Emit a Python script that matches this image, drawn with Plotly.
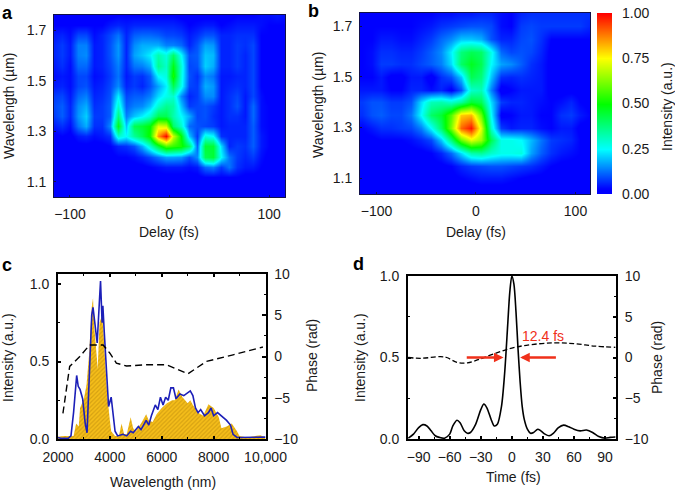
import plotly.graph_objects as go

W, H = 675, 491
FONT = "Liberation Sans"
BLACK = "#1a1a1a"

# Panel a
a_delay = [-116,-108,-100,-92,-84,-76,-68,-60,-52,-44,-36,-28,-20,-12,-4,4,12,20,28,36,44,52,60,68,76,84,92,100,108,116]
a_wave = [1.76,1.72,1.68,1.64,1.60,1.56,1.52,1.48,1.44,1.40,1.36,1.32,1.28,1.24,1.20,1.16,1.12,1.08,1.04]
a_z = [
[.02,.02,.02,.02,.02,.02,.02,.02,.03,.03,.03,.03,.03,.03,.03,.03,.02,.02,.02,.02,.02,.02,.02,.03,.03,.03,.04,.04,.05,.04],
[.03,.03,.03,.03,.03,.03,.03,.05,.06,.05,.06,.06,.06,.06,.06,.06,.05,.03,.04,.05,.05,.03,.04,.05,.05,.05,.04,.03,.03,.03],
[.05,.06,.04,.09,.09,.04,.06,.09,.13,.06,.11,.12,.12,.11,.09,.09,.08,.05,.07,.10,.10,.06,.06,.07,.07,.07,.03,.03,.02,.02],
[.06,.08,.05,.14,.14,.05,.06,.10,.16,.06,.15,.18,.18,.18,.14,.14,.12,.06,.10,.17,.16,.06,.06,.08,.07,.09,.03,.02,.02,.02],
[.06,.08,.05,.14,.15,.05,.06,.10,.16,.06,.17,.20,.24,.33,.28,.40,.25,.10,.11,.20,.19,.06,.06,.08,.06,.09,.03,.02,.02,.02],
[.05,.07,.04,.12,.12,.05,.06,.09,.14,.06,.13,.14,.18,.36,.30,.48,.29,.09,.10,.21,.18,.06,.06,.08,.06,.09,.03,.02,.02,.02],
[.04,.05,.04,.09,.09,.04,.05,.08,.13,.05,.08,.07,.11,.25,.28,.52,.28,.10,.07,.15,.13,.05,.05,.06,.06,.09,.03,.02,.02,.02],
[.05,.06,.04,.09,.10,.05,.06,.09,.15,.06,.08,.06,.10,.17,.24,.42,.27,.09,.08,.18,.16,.05,.06,.07,.06,.09,.03,.02,.02,.03],
[.08,.09,.05,.12,.14,.06,.07,.10,.24,.09,.11,.11,.14,.22,.27,.30,.15,.06,.08,.15,.15,.05,.07,.09,.05,.09,.04,.02,.02,.03],
[.09,.11,.06,.15,.18,.07,.08,.11,.30,.11,.14,.15,.20,.30,.36,.34,.20,.08,.09,.10,.08,.05,.07,.10,.05,.12,.04,.03,.03,.03],
[.08,.11,.06,.16,.21,.08,.08,.11,.38,.14,.20,.24,.30,.42,.42,.33,.25,.18,.09,.10,.07,.05,.07,.07,.05,.12,.04,.03,.03,.03],
[.05,.07,.04,.13,.18,.07,.07,.15,.48,.20,.42,.45,.50,.72,.70,.40,.30,.12,.10,.09,.08,.05,.06,.06,.06,.11,.04,.03,.03,.03],
[.02,.03,.02,.05,.06,.04,.05,.07,.30,.25,.35,.42,.52,.85,1.0,.70,.50,.20,.08,.28,.25,.07,.06,.06,.06,.11,.05,.03,.03,.03],
[.01,.01,.01,.02,.02,.02,.02,.03,.06,.07,.10,.18,.30,.45,.58,.55,.52,.40,.12,.45,.45,.22,.06,.08,.07,.11,.05,.03,.02,.02],
[.01,.01,.01,.01,.01,.02,.02,.02,.03,.03,.04,.06,.09,.13,.17,.17,.16,.10,.15,.42,.45,.25,.13,.08,.06,.08,.04,.02,.02,.02],
[.01,.01,.01,.01,.01,.01,.01,.02,.02,.02,.02,.02,.03,.04,.05,.05,.05,.04,.05,.12,.14,.08,.13,.07,.05,.05,.03,.02,.02,.02],
[.01,.01,.01,.01,.01,.01,.01,.01,.01,.01,.01,.01,.02,.02,.02,.02,.02,.02,.02,.03,.03,.03,.03,.03,.02,.02,.02,.02,.02,.02],
[.01,.01,.01,.01,.01,.01,.01,.01,.01,.01,.01,.01,.01,.01,.01,.01,.01,.01,.01,.01,.01,.01,.01,.01,.01,.01,.01,.01,.01,.01],
[.01,.01,.01,.01,.01,.01,.01,.01,.01,.01,.01,.01,.01,.01,.01,.01,.01,.01,.01,.01,.01,.01,.01,.01,.01,.01,.01,.01,.01,.01],
]

# Panel b
b_delay = [-115,-105,-95,-85,-75,-65,-55,-45,-35,-25,-15,-5,5,15,25,35,45,55,65,75,85,95,105,115]
b_wave = [1.75,1.70,1.65,1.60,1.55,1.50,1.45,1.40,1.35,1.30,1.25,1.20,1.15,1.10,1.05]
b_z = [
[.03,.03,.03,.03,.03,.03,.03,.03,.04,.04,.05,.05,.06,.06,.04,.03,.06,.07,.07,.07,.07,.07,.07,.07],
[.03,.03,.03,.03,.03,.03,.04,.05,.07,.08,.09,.10,.10,.09,.04,.03,.08,.09,.08,.08,.08,.08,.08,.06],
[.03,.03,.05,.05,.04,.04,.06,.08,.12,.15,.20,.20,.18,.10,.06,.06,.09,.10,.07,.03,.03,.03,.03,.03],
[.03,.04,.07,.07,.06,.06,.08,.11,.15,.24,.38,.42,.40,.27,.12,.09,.10,.09,.06,.02,.02,.02,.02,.02],
[.03,.04,.08,.08,.07,.07,.09,.11,.14,.22,.40,.47,.42,.25,.17,.15,.11,.07,.05,.02,.02,.02,.02,.02],
[.03,.03,.05,.02,.02,.05,.05,.01,.07,.10,.20,.42,.38,.20,.07,.06,.07,.06,.05,.02,.02,.02,.02,.02],
[.05,.05,.05,.03,.03,.06,.06,.04,.06,.02,.10,.30,.32,.14,.01,.03,.05,.05,.05,.02,.02,.02,.02,.02],
[.08,.10,.10,.08,.08,.10,.22,.32,.33,.30,.35,.45,.42,.22,.08,.06,.06,.05,.04,.03,.04,.06,.03,.02],
[.07,.10,.11,.09,.09,.13,.25,.40,.45,.58,.80,.82,.60,.25,.02,.03,.05,.05,.03,.03,.07,.08,.05,.03],
[.03,.05,.07,.07,.08,.09,.14,.25,.40,.62,.90,.98,.72,.30,.08,.05,.06,.06,.04,.03,.05,.05,.02,.02],
[.02,.02,.03,.03,.03,.04,.06,.09,.20,.38,.60,.72,.65,.42,.27,.27,.25,.19,.13,.08,.07,.06,.03,.03],
[.01,.01,.01,.01,.01,.02,.02,.03,.06,.12,.22,.33,.35,.30,.27,.27,.28,.17,.11,.07,.05,.04,.03,.03],
[.01,.01,.01,.01,.01,.01,.01,.02,.02,.03,.06,.08,.09,.10,.10,.09,.08,.07,.05,.03,.02,.02,.02,.02],
[.01,.01,.01,.01,.01,.01,.01,.01,.01,.02,.03,.04,.05,.05,.05,.04,.03,.02,.02,.01,.01,.01,.01,.01],
[.01,.01,.01,.01,.01,.01,.01,.01,.01,.01,.01,.01,.01,.01,.01,.01,.01,.01,.01,.01,.01,.01,.01,.01],
]

# Colour bar
cbar_levels = [0, .25, .5, .75, 1]
cbar_labels = ["0.00", "0.25", "0.50", "0.75", "1.00"]

# Panel c
c_fill_x = [2000,2200,2500,2600,2700,2800,2850,3000,3100,3200,3300,3350,3400,3500,3530,3600,3700,3750,3800,3900,4000,4050,4200,4350,4450,4550,4650,4800,4900,5000,5200,5400,5500,5650,5800,6000,6200,6400,6500,6650,6800,7000,7100,7200,7400,7600,7800,8000,8200,8300,8500,8700,8900,9000,9300,9600,9800,10000]
c_fill_y = [.015,.02,.02,.02,.10,.08,.2,.26,.35,.55,.85,.91,.72,.52,.45,.75,.80,.70,.55,.28,.12,.05,.02,.02,.10,.03,.03,.14,.07,.05,.10,.16,.12,.11,.16,.2,.23,.25,.25,.32,.27,.23,.25,.22,.17,.15,.225,.20,.14,.07,.08,.10,.05,.02,.01,.02,.025,.01]
c_blue_x = [2000,2100,2400,2500,2600,2680,2720,2780,2850,2950,3050,3120,3200,3300,3350,3430,3510,3600,3640,3700,3730,3780,3850,3950,4050,4100,4200,4300,4500,4650,4800,4900,5100,5200,5400,5500,5600,5750,5850,5950,6050,6150,6250,6350,6450,6550,6700,6850,7000,7100,7200,7300,7400,7500,7650,7800,7900,8000,8150,8300,8500,8650,8750,8900,10000]
c_blue_y = [.01,.005,.005,.02,.17,.38,.41,.34,.32,.26,.10,.04,.35,.80,.85,.75,.62,.90,1.02,.75,.86,.70,.50,.21,.27,.20,.05,.02,.03,.02,.05,.04,.08,.06,.12,.09,.15,.22,.19,.27,.22,.27,.25,.33,.33,.26,.29,.28,.30,.31,.28,.20,.17,.19,.15,.17,.20,.15,.17,.15,.12,.09,.03,.01,.012]
c_phase_x = [2190,2320,2450,2840,3220,3740,4000,4250,4640,5400,6180,7010,7720,8750,9900]
c_phase_y = [-6.9,-4,-1.2,0,1.4,1.4,.4,-.8,-1.15,-1,-1,-2.1,-.6,.2,1.15]
c_xticks = [2000,4000,6000,8000,10000]
c_xlabels = ["2000","4000","6000","8000","10,000"]

# Panel d
d_t = [-100,-95,-90,-86,-82,-78,-74,-70,-65,-60,-57,-53,-50,-46,-43,-40,-35,-30,-27,-24,-20,-17,-14,-10,-7,-4,-2,0,2,4,6,8,10,12,15,18,21,25,28,32,36,40,45,50,55,60,66,72,78,84,90,95,100]
d_i = [.005,.03,.07,.088,.08,.05,.02,.01,.005,.03,.08,.115,.10,.05,.035,.04,.09,.18,.215,.19,.12,.08,.09,.2,.4,.7,.9,1.0,.95,.78,.55,.35,.2,.12,.06,.035,.04,.06,.05,.03,.02,.035,.07,.085,.075,.06,.05,.055,.04,.015,.005,.01,.012]
d_phase_t = [-100,-88,-69,-63,-53,-43,-30,-14,0,14,40,60,80,100]
d_phase = [0,-.1,.1,0,-.6,-.65,-.15,.6,1.15,1.5,1.8,1.7,1.4,1.25]

JET = [[0,"rgb(0,0,255)"],[.03,"rgb(0,0,255)"],[.25,"rgb(0,255,255)"],[.5,"rgb(0,255,0)"],[.75,"rgb(255,255,0)"],[1,"rgb(255,0,0)"]]

def dx(a, b): return [a / W, b / W]
def dy(top, bot): return [1 - bot / H, 1 - top / H]

fig = go.Figure()
fig.add_trace(go.Heatmap(x=a_delay, y=a_wave, z=a_z, zmin=0, zmax=1, colorscale=JET, zsmooth="best",
                         showscale=False, xaxis="x", yaxis="y"))
fig.add_trace(go.Heatmap(x=b_delay, y=b_wave, z=b_z, zmin=0, zmax=1, colorscale=JET, zsmooth="best",
                         showscale=False, xaxis="x2", yaxis="y2"))
fig.add_trace(go.Heatmap(x=[0, 1], y=cbar_levels, z=[[v, v] for v in cbar_levels], zmin=0, zmax=1, colorscale=JET,
                         zsmooth="best", showscale=False, xaxis="x5", yaxis="y7"))
fig.add_trace(go.Scatter(x=c_fill_x, y=c_fill_y, mode="none", fill="tozeroy", xaxis="x3", yaxis="y3",
                         fillcolor="#F2B705",
                         fillpattern=dict(shape="/", bgcolor="#F5BE1A", fgcolor="#B8860B", size=3, solidity=.4)))
fig.add_trace(go.Scatter(x=c_blue_x, y=c_blue_y, mode="lines", line=dict(color="#1C1FB8", width=1.6), xaxis="x3", yaxis="y3"))
fig.add_trace(go.Scatter(x=c_phase_x, y=c_phase_y, mode="lines", line=dict(color="black", width=1.4, dash="7px,4px"), xaxis="x3", yaxis="y4"))
fig.add_trace(go.Scatter(x=d_t, y=d_i, mode="lines", line=dict(color="black", width=1.6, shape="spline", smoothing=.8), xaxis="x4", yaxis="y5"))
fig.add_trace(go.Scatter(x=d_phase_t, y=d_phase, mode="lines", line=dict(color="black", width=1.3, dash="5px,2.5px", shape="spline"), xaxis="x4", yaxis="y6"))

tf = dict(family=FONT, size=14, color=BLACK)

def hm_axis(domain, rng, ticks, anchor):
    return dict(domain=domain, range=rng, tickvals=ticks, ticks="inside", ticklen=2, tickwidth=1, tickcolor="#10104a",
                showline=True, mirror=True, linecolor="#10104a", linewidth=1, showgrid=False, zeroline=False,
                tickfont=tf, anchor=anchor, automargin=False, ticklabelstandoff=4)

def line_axis(domain, rng, ticks, labels, anchor, **kw):
    d = dict(domain=domain, range=rng, tickvals=ticks, ticktext=labels, ticks="inside", ticklen=3.5, tickwidth=1.5, tickcolor="black",
             showline=True, linecolor="black", linewidth=1.8, showgrid=False, zeroline=False,
             tickfont=tf, anchor=anchor, automargin=False, ticklabelstandoff=4)
    d.update(kw)
    return d

PH_T = [-10, -5, 0, 5, 10]
PH_L = ["−10", "−5", "0", "5", "10"]
minor_ph = dict(tickvals=[-7.5, -2.5, 2.5, 7.5], ticks="inside", ticklen=2, tickwidth=1.2, tickcolor="black", showgrid=False)
minor_i = dict(tickvals=[.25, .75], ticks="inside", ticklen=2, tickwidth=1.2, tickcolor="black", showgrid=False)

fig.update_layout(
    width=W, height=H, margin=dict(l=0, r=0, t=0, b=0, autoexpand=False), paper_bgcolor="white", plot_bgcolor="white", showlegend=False,
    xaxis=hm_axis(dx(54, 285), [-116, 116], [-100, 0, 100], "y"),
    yaxis=hm_axis(dy(15, 197), [1.04, 1.76], [1.1, 1.3, 1.5, 1.7], "x"),
    xaxis2=hm_axis(dx(360, 590), [-116.6, 114.6], [-100, 0, 100], "y2"),
    yaxis2=hm_axis(dy(13, 194), [1.038, 1.752], [1.1, 1.3, 1.5, 1.7], "x2"),
    xaxis5=dict(domain=dx(597, 612), range=[0, 1], visible=False, anchor="y7"),
    yaxis7=dict(domain=dy(13, 194), range=[0, 1], tickvals=cbar_levels, ticktext=cbar_labels, side="right", anchor="x5",
                ticks="", showline=False, showgrid=False, zeroline=False, tickfont=tf, automargin=False, ticklabelstandoff=9),
    xaxis3=line_axis(dx(58, 265.5), [2000, 10000], c_xticks, c_xlabels, "y3", mirror="ticks",
                     minor=dict(tickvals=[3000, 5000, 7000, 9000], ticks="inside", ticklen=2, tickwidth=1.2, tickcolor="black", showgrid=False)),
    yaxis3=line_axis(dy(274, 439), [0, 1.065], [0, .5, 1], ["0.0", "0.5", "1.0"], "x3", minor=minor_i),
    yaxis4=line_axis(dy(274, 439), [-10, 10], PH_T, PH_L, "x3", overlaying="y3", side="right", minor=minor_ph),
    xaxis4=line_axis(dx(408, 616), [-100.3, 100.6], [-90, -60, -30, 0, 30, 60, 90], ["−90", "−60", "−30", "0", "30", "60", "90"], "y5", mirror=True,
                     minor=dict(tickvals=[-75, -45, -15, 15, 45, 75], ticks="inside", ticklen=2, tickwidth=1.2, tickcolor="black", showgrid=False)),
    yaxis5=line_axis(dy(276, 439), [0, 1], [0, .5, 1], ["0.0", "0.5", "1.0"], "x4", minor=minor_i),
    yaxis6=line_axis(dy(276, 439), [-10, 10], PH_T, PH_L, "x4", overlaying="y5", side="right", minor=minor_ph),
)

def label(text, px, py, angle=0, size=14, color=BLACK):
    fig.add_annotation(text=text, x=px / W, y=1 - py / H, xref="paper", yref="paper", showarrow=False, textangle=angle,
                       xanchor="center", yanchor="middle", font=dict(family=FONT, size=size, color=color))

for txt, px, py in [("a", 7, 13), ("b", 313, 11), ("c", 7, 265), ("d", 358, 264)]:
    label(f"<b>{txt}</b>", px, py, size=18, color="black")
for txt, px, py, ang in [
    ("Delay (fs)", 169, 232, 0), ("Wavelength (µm)", 9, 106, -90),
    ("Delay (fs)", 476, 232, 0), ("Wavelength (µm)", 318, 105, -90),
    ("Intensity (a.u.)", 667, 107, -90),
    ("Wavelength (nm)", 163, 482, 0), ("Intensity (a.u.)", 8, 358, -90), ("Phase (rad)", 312, 356, -90),
    ("Time (fs)", 513, 477, 0), ("Intensity (a.u.)", 360, 358, -90), ("Phase (rad)", 657, 358, -90),
]:
    label(txt, px, py, ang)

RED = "#F0301A"
fig.add_annotation(x=-8, y=.5, ax=-45, ay=.5, xref="x4", yref="y5", axref="x4", ayref="y5", text="", showarrow=True,
                   arrowhead=2, arrowsize=.8, arrowwidth=2.4, arrowcolor=RED)
fig.add_annotation(x=8, y=.5, ax=44, ay=.5, xref="x4", yref="y5", axref="x4", ayref="y5", text="", showarrow=True,
                   arrowhead=2, arrowsize=.8, arrowwidth=2.4, arrowcolor=RED)
fig.add_annotation(x=30.5, y=.633, xref="x4", yref="y5", text="12.4 fs", showarrow=False, font=dict(family=FONT, size=14, color=RED))

fig.write_html("out.html", config={"displayModeBar": False},
               post_script="document.body.style.margin='0';document.body.style.overflow='hidden';")
